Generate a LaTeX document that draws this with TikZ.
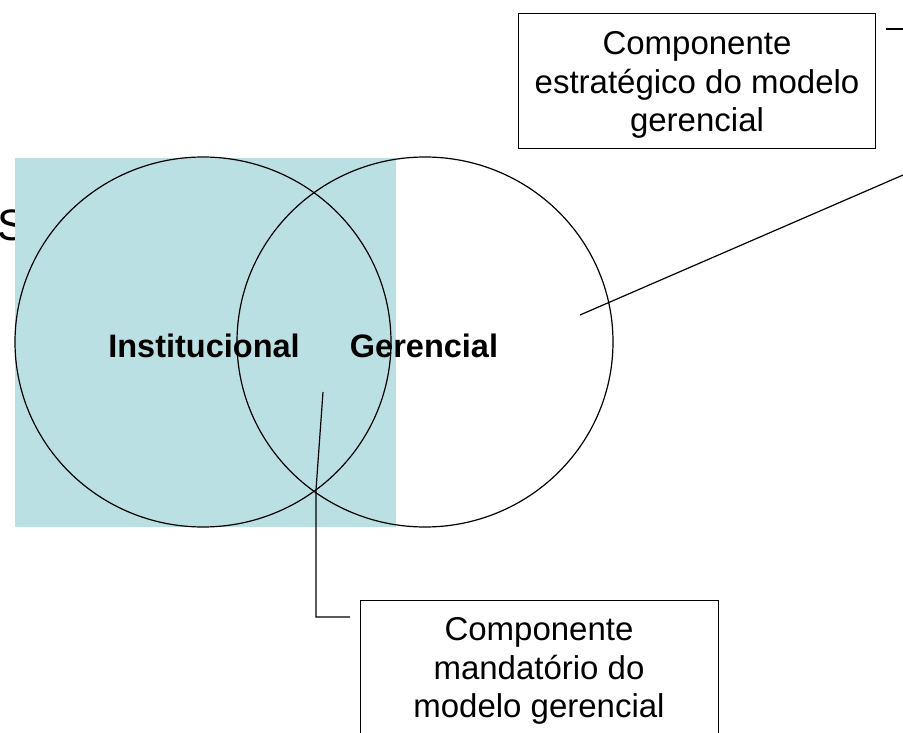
\documentclass[tikz,border=0pt]{standalone}
\usepackage{fontspec}
\setmainfont{Liberation Sans}
\definecolor{pale}{RGB}{187,224,227}
\begin{document}
\begin{tikzpicture}[x=1pt,y=-1pt,line width=1.2pt,
  lbl/.style={font=\fontsize{32.5}{36}\selectfont\bfseries,inner sep=0},
  boxframe/.style={draw,line width=1.2pt,inner sep=0},
  boxtext/.style={align=center,font=\fontsize{33}{38.5}\selectfont,inner sep=0},
  leader/.style={line width=1.2pt}]
\useasboundingbox (0,0) rectangle (903,733);
\clip (0,0) rectangle (903,733);
\node[anchor=west,font=\fontsize{44}{48}\selectfont,inner sep=0] (s) at (-3,225) {S};
\fill[pale] (15,158) rectangle (396,527);
\draw (203,342) ellipse [x radius=188,y radius=185];
\draw (425,342) ellipse [x radius=188,y radius=185];
\node[lbl] (inst) at (204,346) {Institucional};
\node[lbl] (ger) at (424,346) {Gerencial};
% top callout
\node[boxframe,anchor=north west,minimum width=357,minimum height=135] (tbox) at (518,13) {};
\node[boxtext,anchor=north] (ttext) at (697,31) {Componente\\estratégico do modelo\\gerencial};
\coordinate (t1) at (580,315);
\coordinate (t2) at (1000,133);
\coordinate (q1) at (886,29);
\coordinate (q2) at (920,29);
\draw[leader] (t1) -- (t2);
\draw[leader] (q1) -- (q2);
% bottom callout
\node[boxframe,anchor=north west,minimum width=358,minimum height=170] (bbox) at (360,600) {};
\node[boxtext,anchor=north] (btext) at (539,617) {Componente\\mandatório do\\modelo gerencial};
\coordinate (b1) at (323,392);
\coordinate (b2) at (316,490);
\coordinate (b3) at (350,617);
\draw[leader] (b1) -- (b2) |- (b3);
\end{tikzpicture}
\end{document}
